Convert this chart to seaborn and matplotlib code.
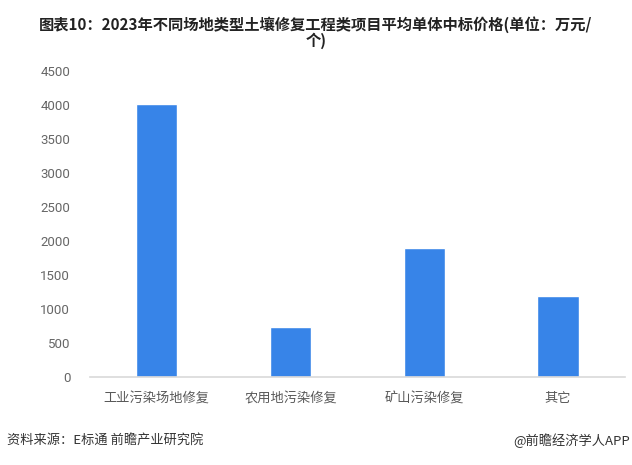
import seaborn as sns
import matplotlib.pyplot as plt
import pandas as pd

# data
categories = ['工业污染场地修复', '农用地污染修复', '矿山污染修复', '其它']
values = [4020, 735, 1900, 1190]
yticks = [0, 500, 1000, 1500, 2000, 2500, 3000, 3500, 4000, 4500]

sns.set_theme(style='white')
plt.rcParams['font.family'] = ['Noto Sans CJK SC', 'DejaVu Sans']

df = pd.DataFrame({'场地类型': categories, '价格': values})

fig = plt.figure(figsize=(6.32, 4.65), dpi=100)
ax = fig.add_axes([0.142, 0.189, 0.847, 0.658])

sns.barplot(data=df, x='场地类型', y='价格', color='#3784E8', width=0.31,
            saturation=1, ax=ax)

ax.set_ylim(0, 4500)
ax.set_yticks(yticks)
ax.set_yticklabels([str(t) for t in yticks], family='Roboto', fontsize=9.5,
                   color='#666666')
ax.tick_params(axis='y', length=0, pad=14)
ax.tick_params(axis='x', length=0, pad=11, labelsize=9.5, labelcolor='#595959')
ax.set_xlabel('')
ax.set_ylabel('')
for s in ['top', 'right', 'left']:
    ax.spines[s].set_visible(False)
ax.spines['bottom'].set_color('#d9d9d9')
ax.spines['bottom'].set_linewidth(1.2)

fig.text(0.5, 0.965, '图表10：2023年不同场地类型土壤修复工程类项目平均单体中标价格(单位：万元/\n个)',
         ha='center', va='top', fontsize=11, fontweight='bold', color='#222222',
         linespacing=0.95)

fig.text(0.011, 0.053, '资料来源：E标通 前瞻产业研究院', ha='left', va='center',
         fontsize=9.5, color='#333333')
fig.text(0.997, 0.053, '@前瞻经济学人APP', ha='right', va='center',
         fontsize=9.5, color='#333333')

fig.savefig('out.png', dpi=100)
